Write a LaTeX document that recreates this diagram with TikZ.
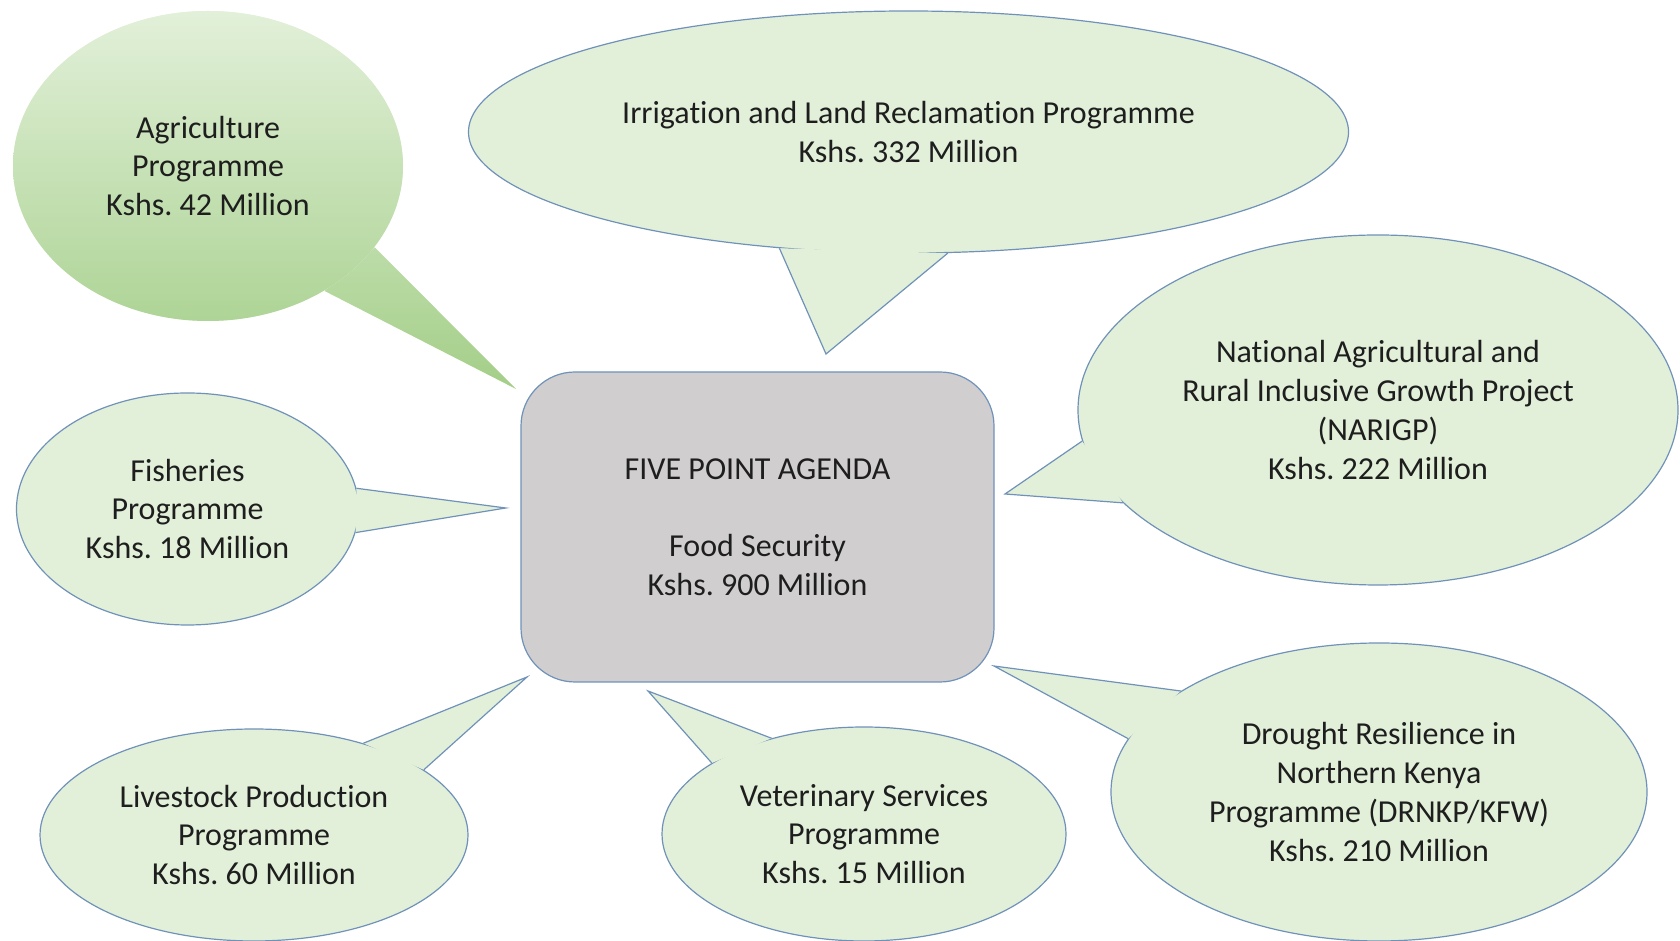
\documentclass[tikz,border=0pt]{standalone}
\usepackage{fontspec}
\setmainfont[Ligatures=NoCommon]{Carlito}
\usetikzlibrary{shapes.geometric}
\definecolor{bfill}{RGB}{226,240,217}
\definecolor{bline}{RGB}{112,146,186}
\definecolor{boxfill}{RGB}{208,206,206}
\definecolor{agtop}{RGB}{226,240,217}
\definecolor{agbot}{RGB}{174,212,150}
\definecolor{agmid}{RGB}{188,220,168}
\definecolor{agtip}{RGB}{164,206,136}
\definecolor{txt}{RGB}{30,30,30}
\pgfdeclarelayer{bg}
\pgfsetlayers{bg,main}
\frenchspacing
\begin{document}
\begin{tikzpicture}[x=1pt,y=1pt,
  bubble/.style={ellipse, inner sep=0pt, align=center, fill=bfill, draw=bline,
    line width=1.2pt, text=txt, font=\fontsize{32}{38.8}\selectfont},
  tailfill/.style={fill=bfill},
  tailline/.style={draw=bline, line width=1.2pt, line join=miter},
  hub/.style={rectangle, rounded corners=54pt, fill=boxfill, draw=bline,
    line width=1.2pt, minimum width=473pt, minimum height=310pt, align=center,
    text=txt, font=\fontsize{32}{38.8}\selectfont}]
\useasboundingbox (0,0) rectangle (1680,941);
\clip (0,0) rectangle (1680,941);

% tips of the tails
\coordinate (tagri) at (516,552);
\coordinate (tirr) at (826,587);
\coordinate (tnar) at (1005,447);
\coordinate (tfish) at (505.7,433);
\coordinate (tlive) at (527,264);
\coordinate (tvet) at (648,250);
\coordinate (tdro) at (994,275);

% central box
\node[hub] (hub) at (757.5,414) {FIVE POINT AGENDA\\[38.8pt]Food Security\\Kshs. 900 Million};

% Agriculture (shaded, no outline)
\node[bubble, draw=none, top color=agtop, bottom color=agbot,
  minimum width=390pt, minimum height=310pt] (agri) at (208,775)
  {Agriculture\\Programme\\Kshs. 42 Million};
\begin{pgfonlayer}{bg}
\shade[top color=agmid, bottom color=agtip] (agri.-26.4) -- (tagri) -- (agri.-47.1) -- cycle;
\end{pgfonlayer}

% Irrigation
\node[bubble, minimum width=880pt, minimum height=242pt] (irr) at (908.5,809)
  {Irrigation and Land Reclamation Programme\\Kshs. 332 Million};
\fill[tailfill] (irr.222.8) -- (tirr) -- (irr.288.4) -- cycle;
\draw[tailline] (irr.222.8) -- (tirr) -- (irr.288.4);

% NARIGP
\node[bubble, minimum width=600pt, minimum height=350pt] (nar) at (1378,531)
  {National Agricultural and\\Rural Inclusive Growth Project\\(NARIGP)\\Kshs. 222 Million};
\fill[tailfill] (nar.186.3) -- (tnar) -- (nar.200.3) -- cycle;
\draw[tailline] (nar.186.3) -- (tnar) -- (nar.200.3);

% Fisheries
\node[bubble, minimum width=342pt, minimum height=232pt] (fish) at (187.5,432)
  {Fisheries\\Programme\\Kshs. 18 Million};
\fill[tailfill] (fish.7.2) -- (tfish) -- (fish.-8) -- cycle;
\draw[tailline] (fish.7.2) -- (tfish) -- (fish.-8);

% Livestock
\node[bubble, minimum width=428pt, minimum height=212pt] (live) at (254,106)
  {Livestock Production\\Programme\\Kshs. 60 Million};
\fill[tailfill] (live.40.9) -- (tlive) -- (live.21.3) -- cycle;
\draw[tailline] (live.40.9) -- (tlive) -- (live.21.3);

% Veterinary
\node[bubble, minimum width=404pt, minimum height=214pt] (vet) at (864,107)
  {Veterinary Services\\Programme\\Kshs. 15 Million};
\fill[tailfill] (vet.155.7) -- (tvet) -- (vet.134.4) -- cycle;
\draw[tailline] (vet.155.7) -- (tvet) -- (vet.134.4);

% Drought
\node[bubble, minimum width=536pt, minimum height=298pt] (dro) at (1379,149)
  {Drought Resilience in\\Northern Kenya\\Programme (DRNKP/KFW)\\Kshs. 210 Million};
\fill[tailfill] (dro.153.5) -- (tdro) -- (dro.168.6) -- cycle;
\draw[tailline] (dro.153.5) -- (tdro) -- (dro.168.6);
\end{tikzpicture}
\end{document}
